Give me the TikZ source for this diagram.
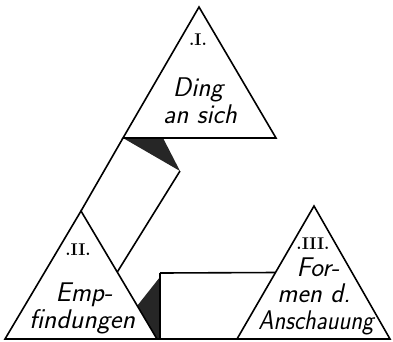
\documentclass[tikz,border=0pt]{standalone}
\usepackage{tikz}
\usetikzlibrary{calc}

\begin{document}
\begin{tikzpicture}[
x=1pt,y=-1pt,
tri/.style={line width=1.6pt,line join=miter},
band/.style={line width=1.6pt},
shade/.style={fill=black!85,draw=none},
word/.style={anchor=base,inner sep=0pt,font=\sffamily\slshape\fontsize{27}{29}\selectfont},
num/.style={anchor=base,inner sep=0pt,font=\rmfamily\bfseries\fontsize{17}{19}\selectfont}
]
\useasboundingbox (0,0) rectangle (393,341);

% corners of the three triangles
\coordinate (T) at (199,7);
\coordinate (TL) at (123,138);
\coordinate (TR) at (276,138);
\coordinate (L) at (81,211);
\coordinate (LL) at (5,339);
\coordinate (LR) at (157,339);
\coordinate (R) at (314,206);
\coordinate (RL) at (237,339);
\coordinate (RR) at (390,339);

% band I -- II
\coordinate (b1a) at (163,138);
\coordinate (b1b) at (180,171);
\coordinate (b1c) at ($(L)!0.477!(LR)$);
\fill[shade] (TL) -- (b1a) -- (b1b) -- cycle;
\draw[band] (TL) -- (L);
\draw[band] (b1b) -- (b1c);

% band II -- III
\coordinate (b2a) at (160,273);
\coordinate (b2b) at (160,277);
\coordinate (b2c) at ($(L)!0.74!(LR)$);
\coordinate (b2d) at (160,339);
\coordinate (b2e) at ($(R)!0.5!(RL)$);
\fill[shade] (b2b) -- (b2c) -- (LR) -- (b2d) -- cycle;
\draw[band] (b2a) -- (b2d);
\draw[band] (b2a) -- (b2e);
\draw[band] (LR) -- (RL);

\draw[tri] (T) -- (TL) -- (TR) -- cycle;
\draw[tri] (L) -- (LL) -- (LR) -- cycle;
\draw[tri] (R) -- (RL) -- (RR) -- cycle;

\node[num] (numI) at (198,45) {.I.};
\node[word] (ding) at (198,96) {Ding};
\node[word] (ansich) at (200,123) {an sich};

\node[num] (numII) at (78,255) {.II.};
\node[word] (emp) at (84,301) {Emp-};
\node[word,xscale=1.03] (findungen) at (82,328) {findungen};

\node[num] (numIII) at (313,249) {.III.};
\node[word] (for) at (318,276) {For-};
\node[word] (mend) at (314,302) {men d.};
\node[word,xscale=0.9] (anschauung) at (316,329) {Anschauung};
\end{tikzpicture}
\end{document}
